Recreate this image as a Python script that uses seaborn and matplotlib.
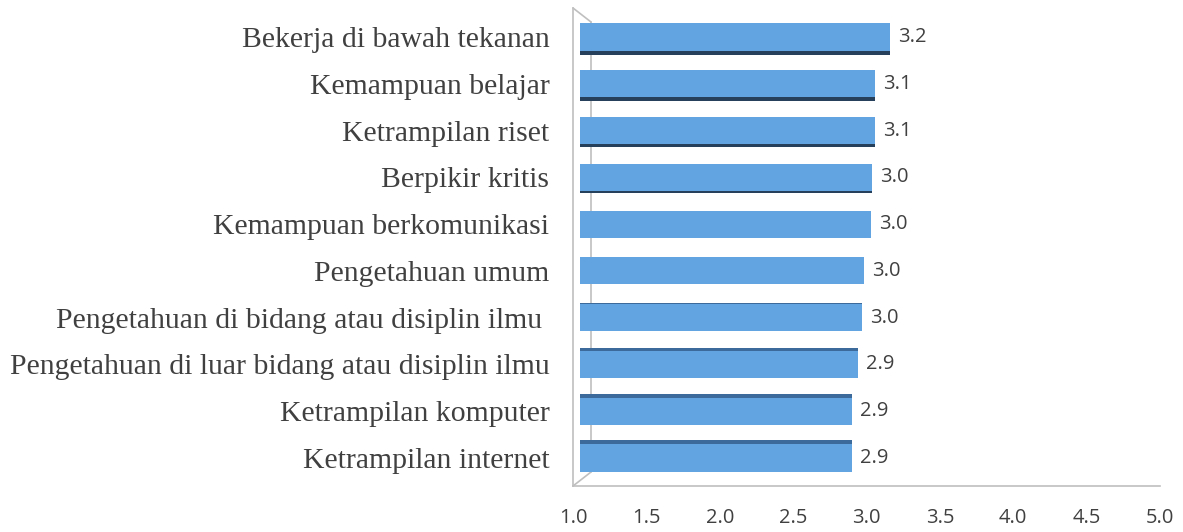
import matplotlib
matplotlib.use("Agg")
import matplotlib.pyplot as plt
import seaborn as sns
import numpy as np

# data
skills = ["Bekerja di bawah tekanan", "Kemampuan belajar", "Ketrampilan riset",
          "Berpikir kritis", "Kemampuan berkomunikasi", "Pengetahuan umum",
          "Pengetahuan di bidang atau disiplin ilmu ",
          "Pengetahuan di luar bidang atau disiplin ilmu",
          "Ketrampilan komputer", "Ketrampilan internet"]
scores = [3.16, 3.06, 3.06, 3.04, 3.03, 2.98, 2.97, 2.94, 2.90, 2.90]
x_ticks = [1.0, 1.5, 2.0, 2.5, 3.0, 3.5, 4.0, 4.5, 5.0]

sns.set_style("white")

fig = plt.figure(figsize=(11.83, 5.32), dpi=100)
ax = fig.add_axes([573 / 1183, 1 - 486 / 532, (1160 - 573) / 1183, (486 - 8) / 532])

bar_start = 1.05  # bars sit in front of the back wall

# dark side of the 3D bars (bottom face seen on top bars, top face on lower bars)
pos = np.arange(len(skills))
shift = (4.6 - pos) * 0.022
side_cols = ["#263F5A" if s > 0 else "#3C6A9B" for s in shift]
ax.barh(pos + shift, np.array(scores) - bar_start, left=bar_start, height=0.58,
        color=side_cols, linewidth=0, zorder=1)

sns.barplot(x=scores, y=skills, orient="h", color="#62A4E1", saturation=1,
            width=0.58, linewidth=0, ax=ax, zorder=2)
for p in ax.patches[len(skills):]:
    w = p.get_width()
    p.set_x(bar_start)
    p.set_width(w - bar_start)

for i, v in enumerate(scores):
    ax.text(v + 0.055, i, f"{v:.1f}", va="center", ha="left", fontsize=14.5,
            family="Open Sans", color="#404040")

ax.set_xlim(1, 5)
ax.set_ylim(9.6, -0.62)
ax.set_xticks(x_ticks)
ax.set_xticklabels([f"{t:.1f}" for t in x_ticks], fontsize=14.5, family="Open Sans",
                   color="#404040")
ax.tick_params(axis="x", length=0, pad=16)
ax.tick_params(axis="y", length=0, pad=17)
for lab in ax.get_yticklabels():
    lab.set_fontfamily("Liberation Serif")
    lab.set_fontsize(21.4)
    lab.set_color("#404040")
ax.set_xlabel("")
ax.set_ylabel("")

for s in ["top", "right"]:
    ax.spines[s].set_visible(False)
for s in ["left", "bottom"]:
    ax.spines[s].set_color("#BFBFBF")
    ax.spines[s].set_linewidth(1.2)

# back wall lines of the 3D frame
tr = ax.transAxes
dx, dy = 18 / 587, 14 / 478
ax.plot([0, dx], [1, 1 - dy], color="#BFBFBF", lw=1.2, transform=tr, clip_on=False, zorder=0)
ax.plot([dx, dx], [1 - dy, dy], color="#BFBFBF", lw=1.2, transform=tr, clip_on=False, zorder=0)
ax.plot([0, dx], [0, dy], color="#BFBFBF", lw=1.2, transform=tr, clip_on=False, zorder=0)

fig.savefig("out.png", dpi=100)
